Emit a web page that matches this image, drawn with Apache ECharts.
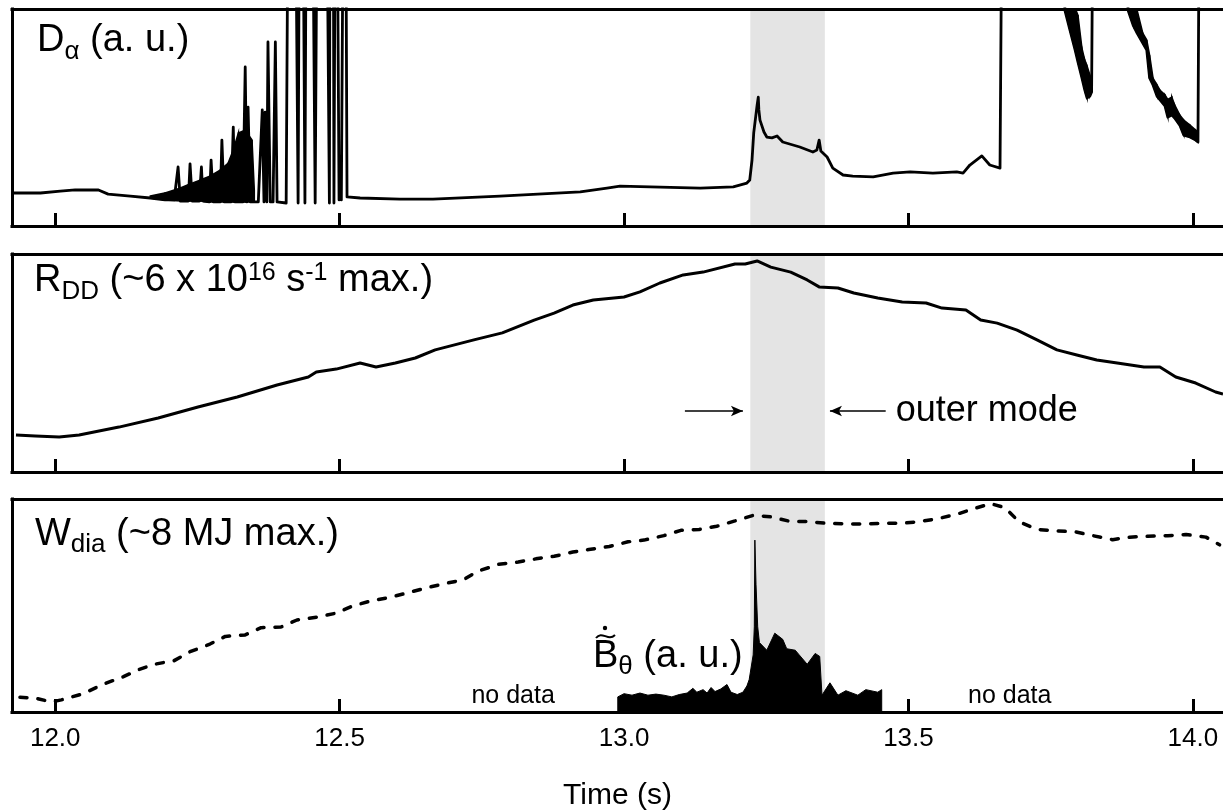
<!DOCTYPE html>
<html>
<head>
<meta charset="utf-8">
<script src="https://cdn.jsdelivr.net/npm/echarts@6/dist/echarts.min.js"></script>
<style>
  html, body { margin: 0; padding: 0; background: #fff; }
  #chart { width: 1223px; height: 812px; }
</style>
</head>
<body>
<div id="chart"></div>
<script>
// ---- data -----------------------------------------------------------------
// time axis (s)
const TIME_TICKS = [12.0, 12.5, 13.0, 13.5, 14.0];
const TIME_RANGE = [11.924, 14.053];
// outer-mode window (s)
const OUTER_MODE = [13.222, 13.353];
// saturated detector: value above full scale
const SAT = 140;

// D-alpha trace, [t (s), signal (a.u., 0-100 full scale)]
const dAlpha = [
  [11.924,15.2],[11.974,15.2],[12.009,16.1],[12.035,16.6],[12.076,16.6],[12.093,14.7],
  [12.132,13.8],[12.167,12.9],[12.193,12.0],[12.209,12.0],[12.216,27.2],[12.220,11.5],
  [12.234,11.5],[12.237,28.6],[12.241,11.5],[12.253,11.5],[12.257,27.2],[12.260,11.5],
  [12.271,11.1],[12.274,30.4],[12.278,11.1],[12.290,11.1],[12.293,39.6],[12.297,11.1],
  [12.309,11.1],[12.313,45.6],[12.316,11.1],[12.330,11.1],[12.334,73.3],[12.337,11.1],
  [12.339,54.8],[12.343,11.1],[12.357,11.1],[12.364,53.5],[12.367,11.1],[12.369,52.5],
  [12.372,11.1],[12.374,84.8],[12.378,11.1],[12.383,11.1],[12.387,84.8],[12.390,11.1],
  [12.406,10.6],[12.409,SAT],[12.423,SAT],[12.427,10.6],[12.429,SAT],[12.436,SAT],
  [12.439,10.6],[12.441,SAT],[12.453,SAT],[12.457,10.6],[12.460,SAT],[12.478,SAT],
  [12.482,10.6],[12.483,SAT],[12.489,SAT],[12.490,10.6],[12.492,SAT],[12.496,SAT],
  [12.499,12.0],[12.501,31.8],[12.503,12.0],[12.506,SAT],[12.511,SAT],[12.513,13.4],
  [12.536,12.9],[12.606,12.4],[12.664,12.4],[12.782,13.8],[12.923,15.7],[12.970,17.5],
  [12.993,18.4],[13.046,18.0],[13.134,17.5],[13.192,18.0],[13.216,19.8],[13.221,21.2],
  [13.225,30.4],[13.228,42.9],[13.234,55.8],[13.236,59.4],[13.237,53.5],[13.239,48.8],
  [13.246,43.3],[13.251,41.0],[13.260,40.6],[13.269,41.5],[13.279,38.7],[13.309,36.4],
  [13.332,34.1],[13.339,35.0],[13.343,39.6],[13.346,34.6],[13.357,31.8],[13.367,26.7],
  [13.385,23.5],[13.402,23.0],[13.438,22.6],[13.473,24.4],[13.503,24.9],[13.543,24.4],
  [13.585,24.9],[13.596,24.4],[13.608,28.1],[13.629,32.3],[13.643,28.1],[13.661,26.7],
  [13.664,SAT],[13.773,SAT],
  [13.775,99.5],[13.784,90.3],[13.793,81.1],[13.798,75.6],[13.805,68.2],[13.810,62.7],
  [13.814,59.0],[13.819,59.9],[13.822,61.8],[13.824,SAT],[13.884,SAT],
  [13.886,99.5],[13.895,92.6],[13.902,88.9],[13.912,84.3],[13.919,81.1],[13.924,68.2],
  [13.930,65.0],[13.937,59.9],[13.942,58.3],[13.951,55.3],[13.956,50.2],[13.963,51.2],
  [13.968,49.8],[13.977,46.5],[13.984,41.9],[13.995,41.0],[14.005,39.6],[14.009,38.7],
  [14.011,SAT],[14.053,SAT]
];
// dense dithering region of D-alpha, [t, lower, upper]
const dAlphaBurst = [
  [12.167,12.9,13.8],[12.193,12.0,15.2],[12.220,11.5,17.5],[12.237,11.5,19.4],
  [12.255,11.5,21.2],[12.272,11.1,23.0],[12.290,11.1,25.8],[12.304,11.1,29.0],
  [12.313,11.1,35.0],[12.322,11.1,42.9],[12.334,11.1,44.2],[12.346,11.1,39.6],
  [12.350,11.1,16.6]
];
// ELM bursts after the outer mode, [t, lower, upper]
const dAlphaElm1 = [
  [13.775,99.5,100.5],[13.784,90.3,100.5],[13.793,81.1,100.5],[13.798,75.6,97.2],
  [13.805,68.2,82.0],[13.810,62.7,76.5],[13.814,59.0,73.7],[13.819,59.9,69.6],
  [13.822,61.8,65.0]
];
const dAlphaElm2 = [
  [13.886,99.5,100.5],[13.895,92.6,100.5],[13.902,88.9,99.5],[13.912,84.3,88.9],
  [13.919,81.1,85.7],[13.924,68.2,78.8],[13.930,65.0,68.2],[13.937,59.9,65.0],
  [13.942,58.3,62.7],[13.951,55.3,60.4],[13.956,50.2,58.3],[13.963,51.2,59.4],
  [13.968,49.8,55.8],[13.977,46.5,51.2],[13.984,41.9,48.8],[13.995,41.0,46.5],
  [14.005,39.6,44.2],[14.009,38.7,43.3]
];

// neutron rate R_DD, [t, % of max]
const rdd = [
  [11.931,17.0],[11.965,16.5],[12.007,16.1],[12.042,17.0],[12.112,20.6],[12.181,24.8],
  [12.251,29.8],[12.320,34.4],[12.390,39.9],[12.445,43.6],[12.459,45.9],[12.494,47.2],
  [12.536,50.0],[12.564,48.2],[12.598,50.0],[12.633,52.3],[12.668,56.0],[12.736,60.6],
  [12.786,63.8],[12.842,69.7],[12.877,72.9],[12.910,76.6],[12.946,78.9],[13.000,80.3],
  [13.028,82.6],[13.063,86.7],[13.104,90.4],[13.139,91.7],[13.195,95.4],[13.213,95.4],
  [13.234,96.8],[13.258,94.0],[13.293,91.7],[13.322,88.1],[13.343,84.9],[13.376,84.4],
  [13.404,82.1],[13.446,79.8],[13.489,78.0],[13.531,77.5],[13.559,75.2],[13.601,74.3],
  [13.627,69.7],[13.656,68.3],[13.691,65.1],[13.726,60.6],[13.761,56.0],[13.796,53.7],
  [13.831,51.4],[13.867,50.0],[13.914,48.2],[13.942,48.2],[13.970,43.6],[14.005,40.8],
  [14.040,36.7],[14.053,35.8]
];

// diamagnetic stored energy W_dia, [t, % of max]
const wdia = [
  [11.938,6.9],[11.967,6.4],[11.993,4.7],[12.011,5.7],[12.049,8.6],[12.084,13.0],
  [12.120,16.6],[12.146,19.8],[12.174,22.4],[12.209,24.1],[12.237,28.3],[12.272,31.9],
  [12.299,35.5],[12.334,36.2],[12.362,39.6],[12.397,39.9],[12.425,43.2],[12.459,44.5],
  [12.494,46.4],[12.522,49.7],[12.557,52.3],[12.587,53.7],[12.619,55.9],[12.650,58.1],
  [12.685,60.3],[12.717,62.0],[12.743,66.1],[12.779,69.3],[12.814,70.4],[12.845,71.9],
  [12.877,73.1],[12.910,75.1],[12.938,76.3],[12.974,77.7],[13.007,79.9],[13.035,80.7],
  [13.070,82.8],[13.100,85.3],[13.132,85.7],[13.163,87.2],[13.195,89.7],[13.227,92.3],
  [13.258,91.6],[13.293,89.4],[13.322,89.4],[13.355,88.6],[13.390,88.3],[13.425,88.3],
  [13.457,88.6],[13.489,88.6],[13.520,89.4],[13.552,90.8],[13.587,93.0],[13.620,95.9],
  [13.645,97.8],[13.670,95.9],[13.694,89.4],[13.726,85.7],[13.761,85.0],[13.793,84.6],
  [13.824,82.8],[13.859,80.9],[13.889,82.1],[13.921,82.5],[13.956,82.8],[13.988,83.3],
  [14.023,82.1],[14.047,78.5]
];

// magnetic fluctuation amplitude, [t, a.u.]
const bTheta = [
  [12.989,0],[12.989,7.1],[13.000,8.6],[13.014,7.9],[13.028,8.9],[13.042,7.9],
  [13.056,8.4],[13.070,7.9],[13.084,7.1],[13.097,8.2],[13.111,8.9],[13.121,11.1],
  [13.128,9.3],[13.139,10.5],[13.146,8.9],[13.153,11.5],[13.160,9.6],[13.170,10.8],
  [13.181,12.9],[13.188,9.3],[13.199,8.2],[13.209,9.3],[13.216,12.2],[13.220,15.2],
  [13.227,26.8],[13.229,40.0],[13.230,80.7],[13.232,60.0],[13.235,40.0],[13.238,32.6],
  [13.251,29.0],[13.265,37.0],[13.279,34.1],[13.286,29.7],[13.301,29.0],[13.308,26.8],
  [13.322,22.4],[13.336,27.5],[13.344,26.1],[13.348,7.9],[13.362,13.7],[13.376,7.9],
  [13.390,10.0],[13.411,7.9],[13.425,10.5],[13.446,9.3],[13.453,10.5],[13.453,0]
];

// ---- layout ---------------------------------------------------------------
const FONT = '"Liberation Sans", Arial, Helvetica, sans-serif';
const PANELS = [
  { top: 9,   height: 217 },
  { top: 254, height: 218 },
  { top: 499, height: 229 }
];
const BORDER = { color: '#000', width: 3, cap: 'square' };

const grids = PANELS.map(p => ({ left: 12, right: 0, top: p.top, height: p.height }));

const xAxes = [];
const yAxes = [];
PANELS.forEach((p, i) => {
  const last = i === PANELS.length - 1;
  xAxes.push({
    type: 'value', gridIndex: i, min: TIME_RANGE[0], max: TIME_RANGE[1],
    position: 'bottom', z: 10,
    axisLine: { show: true, onZero: false, lineStyle: BORDER },
    axisTick: { show: true, inside: true, length: 13, customValues: TIME_TICKS,
                lineStyle: { color: '#000', width: 3 } },
    axisLabel: { show: last, customValues: TIME_TICKS, margin: 14,
                 formatter: v => v.toFixed(1), color: '#000', fontSize: 26, fontFamily: FONT },
    splitLine: { show: false },
    name: last ? 'Time (s)' : '', nameLocation: 'middle', nameGap: 69,
    nameTextStyle: { color: '#000', fontSize: 30, fontFamily: FONT }
  });
  xAxes.push({
    type: 'value', gridIndex: i, min: TIME_RANGE[0], max: TIME_RANGE[1],
    position: 'top', z: 10,
    axisLine: { show: true, onZero: false, lineStyle: BORDER },
    axisTick: { show: false }, axisLabel: { show: false }, splitLine: { show: false }
  });
  yAxes.push({
    type: 'value', gridIndex: i, min: 0, max: 100, z: 10,
    axisLine: { show: true, onZero: false, lineStyle: BORDER },
    axisTick: { show: false }, axisLabel: { show: false }, splitLine: { show: false }
  });
});

// grey band marking the outer mode, one per panel
const shadeSeries = PANELS.map((p, i) => ({
  type: 'line', xAxisIndex: 2 * i, yAxisIndex: i, data: [[OUTER_MODE[0], -10]],
  symbol: 'none', silent: true, z: 1,
  lineStyle: { width: 0 },
  markArea: { silent: true, itemStyle: { color: '#e4e4e4' },
              data: [[{ xAxis: OUTER_MODE[0] }, { xAxis: OUTER_MODE[1] }]] }
}));

// filled envelope between a lower and an upper trace
function bandSeries(data, panel) {
  return {
    type: 'custom', xAxisIndex: 2 * panel, yAxisIndex: panel, data, clip: true,
    silent: true, z: 3, encode: { x: 0, y: [1, 2] },
    renderItem(params, api) {
      const i = params.dataIndexInside;
      if (i === 0) return null;
      const pts = [
        api.coord([api.value(0, i - 1), api.value(2, i - 1)]),
        api.coord([api.value(0), api.value(2)]),
        api.coord([api.value(0), api.value(1)]),
        api.coord([api.value(0, i - 1), api.value(1, i - 1)])
      ];
      return { type: 'polygon', shape: { points: pts },
               style: { fill: '#000', stroke: '#000', lineWidth: 1.5 } };
    }
  };
}

function trace(data, panel, extra) {
  return Object.assign({
    type: 'line', xAxisIndex: 2 * panel, yAxisIndex: panel, data,
    symbol: 'none', silent: true, z: 4, clip: true,
    lineStyle: { color: '#000', width: 2.8, join: 'round' }
  }, extra || {});
}

const ARROW_Y = 28;
const arrows = [
  [{ coord: [OUTER_MODE[0] - 0.115, ARROW_Y] }, { coord: [OUTER_MODE[0] - 0.013, ARROW_Y] }],
  [{ coord: [OUTER_MODE[1] + 0.107, ARROW_Y] }, { coord: [OUTER_MODE[1] + 0.009, ARROW_Y] }]
];

const series = [
  ...shadeSeries,
  bandSeries(dAlphaBurst, 0),
  bandSeries(dAlphaElm1, 0),
  bandSeries(dAlphaElm2, 0),
  trace(dAlpha, 0),
  trace(rdd, 1, {
    lineStyle: { color: '#000', width: 3, join: 'round' },
    markLine: {
      silent: true, symbol: ['none', 'arrow'], symbolSize: [8, 12], precision: 4,
      label: { show: false },
      lineStyle: { color: '#000', width: 1.5, type: 'solid' },
      data: arrows
    }
  }),
  trace(wdia, 2, { lineStyle: { color: '#000', width: 3.5, type: [7, 11], cap: 'round' } }),
  trace(bTheta, 2, { lineStyle: { color: '#000', width: 1 },
                     areaStyle: { color: '#000', opacity: 1 } })
];

const chart = echarts.init(document.getElementById('chart'), null, { renderer: 'canvas' });
chart.setOption({
  animation: false,
  backgroundColor: '#fff',
  grid: grids,
  xAxis: xAxes,
  yAxis: yAxes,
  series
});

// ---- text labels with sub/superscripts ----------------------------------------
const measureCtx = document.createElement('canvas').getContext('2d');
function textWidth(t, size) {
  measureCtx.font = size + 'px ' + FONT;
  return measureCtx.measureText(t).width;
}
// parts: [text, fontSize, baseline shift]; the run starts at x on the given baseline
function label(x, baseline, parts) {
  const out = [];
  let cx = x;
  parts.forEach(([t, size, dy]) => {
    out.push({
      type: 'text', x: cx, y: baseline + (dy || 0) - 0.3465 * size, silent: true, z: 20,
      style: { text: t, fontSize: size, fontFamily: FONT, fill: '#000',
               align: 'left', verticalAlign: 'middle' }
    });
    cx += textWidth(t, size);
  });
  return out;
}

const graphics = [];
graphics.push(...label(37, 54, [['D', 38], ['\u03b1', 26, 7], [' (a. u.)', 38]]));
graphics.push(...label(34, 294, [['R', 38], ['DD', 26, 7], [' (~6 x 10', 38], ['16', 25, -12],
                                 [' s', 38], ['-1', 25, -12], [' max.)', 38]]));
graphics.push(...label(35, 548, [['W', 38], ['dia', 26, 6], [' (~8 MJ max.)', 38]]));

// B-theta label, with tilde and dot above the B
const bX = 593, bBase = 670;
graphics.push(...label(bX, bBase, [['B', 38], ['\u03b8', 26, 6], [' (a. u.)', 38]]));
graphics.push({
  type: 'bezierCurve', silent: true, z: 20,
  shape: { x1: bX + 3, y1: bBase - 32, cpx1: bX + 9, cpy1: bBase - 40,
           cpx2: bX + 15, cpy2: bBase - 28, x2: bX + 22, y2: bBase - 35 },
  style: { stroke: '#000', lineWidth: 2, fill: null }
});
graphics.push({ type: 'circle', silent: true, z: 20,
  shape: { cx: bX + 12, cy: bBase - 42, r: 2.2 }, style: { fill: '#000' } });

// "outer mode" caption next to the right arrow, "no data" notes in the bottom panel
const capPos = chart.convertToPixel({ gridIndex: 1 }, [OUTER_MODE[1] + 0.107, ARROW_Y]);
graphics.push({ type: 'text', x: capPos[0] + 10, y: capPos[1], silent: true, z: 20,
  style: { text: 'outer mode', fontSize: 36, fontFamily: FONT, fill: '#000',
           align: 'left', verticalAlign: 'middle' } });
[12.805, 13.678].forEach(t => {
  const p = chart.convertToPixel({ gridIndex: 2 }, [t, 7.4]);
  graphics.push({ type: 'text', x: p[0], y: p[1], silent: true, z: 20,
    style: { text: 'no data', fontSize: 25, fontFamily: FONT, fill: '#000',
             align: 'center', verticalAlign: 'middle' } });
});

chart.setOption({ graphic: graphics });
</script>
</body>
</html>
